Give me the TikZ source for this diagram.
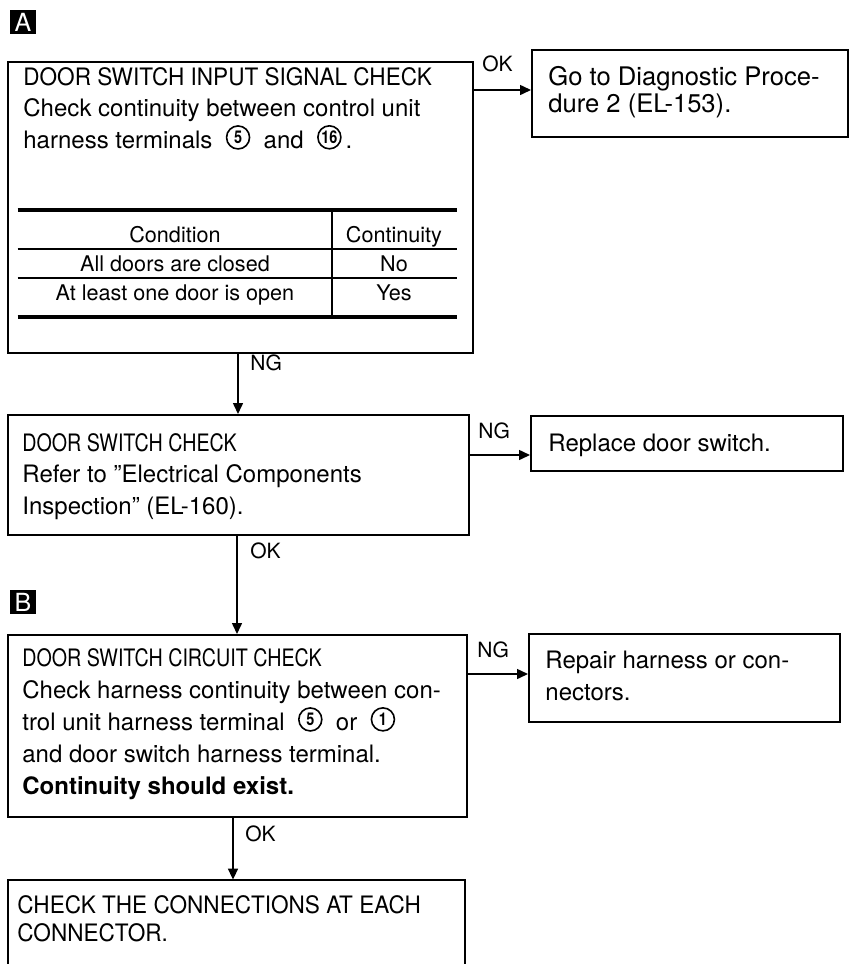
\documentclass[tikz,border=0pt]{standalone}
\usepackage{fontspec}
\setmainfont{TeX Gyre Heros}
\newfontfamily\capsA[FakeStretch=0.94]{TeX Gyre Heros}
\newfontfamily\capsB[FakeStretch=0.82]{TeX Gyre Heros}
\usetikzlibrary{arrows.meta,fit}
% circled terminal number, set inline with the text
\newcommand\cn[1]{\tikz[baseline={([yshift=-2.2pt]cc.base)}]\node[circle, draw,
  line width=0.8pt, inner sep=0pt, minimum size=11.5pt,
  font=\capsB\bfseries\fontsize{8.8}{9}\selectfont] (cc) {#1};}
\tikzset{
  box/.style={draw, line width=1pt, inner sep=0pt},
  txt/.style={anchor=base west, inner sep=0pt, font=\fontsize{12}{14}\selectfont},
  big/.style={txt, font=\fontsize{12.8}{14}\selectfont},
  hdA/.style={txt, font=\capsA\fontsize{12}{14}\selectfont},
  hdB/.style={txt, font=\capsB\fontsize{12}{14}\selectfont},
  cell/.style={anchor=base, inner sep=0pt, font=\fontsize{10.8}{13}\selectfont},
  lbl/.style={anchor=base west, inner sep=0pt, font=\fontsize{10.5}{12}\selectfont},
  arr/.style={line width=0.75pt, -{Triangle[length=5.5pt,width=5pt]}},
  marker/.style={fill=black, text=white, inner sep=0pt, minimum width=13pt,
    minimum height=12pt, font=\fontsize{12.5}{13}\selectfont},
  thickrule/.style={line width=2pt},
  thinrule/.style={line width=0.8pt}
}
\begin{document}
\begin{tikzpicture}[x=0.5pt, y=-0.5pt]
\useasboundingbox (0,0) rectangle (851,964);

% section markers
\node[marker] (mA) at (23,22) {A};
\node[marker] (mB) at (23,602) {B};

% step boxes
\node[box, fit={(8,62) (473,353)}] (b1) {};
\node[box, fit={(532,50) (848,137)}] (go) {};
\node[box, fit={(8,415) (469,535)}] (b2) {};
\node[box, fit={(531,416) (843,471)}] (rep) {};
\node[box, fit={(8,635) (467,817)}] (b3) {};
\node[box, fit={(529,634) (840,722)}] (fix) {};
\node[inner sep=0pt, fit={(8,880) (465,964)}] (b4) {};
\draw[line width=1pt] (b4.south west) -- (b4.north west) -- (b4.north east) -- (b4.south east);

% step 1 text
\node[hdA] (t1a) at (23,85) {DOOR SWITCH INPUT SIGNAL CHECK};
\node[txt] (t1b) at (23,116) {Check continuity between control unit};
\node[txt] (t1c) at (23,148) {harness terminals\ \ \cn{5}\ \ and\ \ \cn{16}\,.};

% continuity table
\node[inner sep=0pt, fit={(18,210) (457,317)}] (tab) {};
\coordinate (r1) at (0,249);
\coordinate (r2) at (0,278);
\coordinate (cdiv) at (332,0);
\draw[thickrule] (tab.north west) -- (tab.north east);
\draw[thickrule] (tab.south west) -- (tab.south east);
\draw[thinrule] (tab.west |- r1) -- (tab.east |- r1);
\draw[thinrule] (tab.west |- r2) -- (tab.east |- r2);
\draw[line width=1pt] (tab.north -| cdiv) -- (tab.south -| cdiv);
\node[cell] (c11) at (175,242) {Condition};
\node[cell] (c12) at (394,242) {Continuity};
\node[cell] (c21) at (175,271) {All doors are closed};
\node[cell] (c22) at (394,271) {No};
\node[cell] (c31) at (175,300) {At least one door is open};
\node[cell] (c32) at (394,300) {Yes};

% side results
\node[big] (g1) at (548,85) {Go to Diagnostic Proce-};
\node[big] (g2) at (548,112) {dure 2 (EL-153).};
\node[txt] (rp) at (548,451) {Replace door switch.};
\node[txt] (f1) at (545,668) {Repair harness or con-};
\node[txt] (f2) at (545,700) {nectors.};

% step 2 text
\node[hdB] (t2a) at (22,451) {DOOR SWITCH CHECK};
\node[txt] (t2b) at (22,482) {Refer to ''Electrical Components};
\node[txt] (t2c) at (22,514) {Inspection'' (EL-160).};

% step 3 text
\node[hdB] (t3a) at (22,666) {DOOR SWITCH CIRCUIT CHECK};
\node[txt] (t3b) at (22,698) {Check harness continuity between con-};
\node[txt] (t3c) at (22,730) {trol unit harness terminal\ \ \cn{5}\ \ or\ \ \cn{1}};
\node[txt] (t3d) at (22,762) {and door switch harness terminal.};
\node[txt, font=\bfseries\fontsize{12}{14}\selectfont] (t3e) at (22,794) {Continuity should exist.};

% step 4 text
\node[hdA] (t4a) at (17,913) {CHECK THE CONNECTIONS AT EACH};
\node[hdA] (t4b) at (17,941) {CONNECTOR.};

% connectors
\coordinate (h1) at (0,90);
\coordinate (h2) at (0,455);
\coordinate (h3) at (0,674);
\coordinate (v1) at (238,0);
\coordinate (v2) at (237,0);
\coordinate (v3) at (233,0);
\draw[arr] (b1.east |- h1) -- (go.west |- h1);
\draw[arr] (b1.south -| v1) -- (b2.north -| v1);
\draw[arr] (b2.east |- h2) -- (rep.west |- h2);
\draw[arr] (b2.south -| v2) -- (b3.north -| v2);
\draw[arr] (b3.east |- h3) -- (fix.west |- h3);
\draw[arr] (b3.south -| v3) -- (b4.north -| v3);

% branch labels
\node[lbl] (l1) at (482,71) {OK};
\node[lbl] (l2) at (250,370) {NG};
\node[lbl] (l3) at (478,438) {NG};
\node[lbl] (l4) at (250,558) {OK};
\node[lbl] (l5) at (477,657) {NG};
\node[lbl] (l6) at (245,841) {OK};
\end{tikzpicture}
\end{document}
